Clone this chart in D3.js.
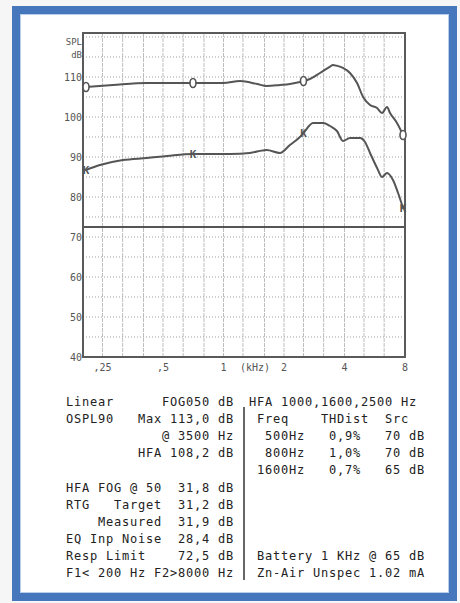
<!DOCTYPE html>
<html>
<head>
    <title>hearing aid test</title>
    <script src="https://d3js.org/d3.v7.min.js"></script>
    <style>
        body{margin:0;background:#f6f6f6;}
        text{font-family:"DejaVu Sans Mono",monospace;}
    </style>
</head>
<body>
    <script>
var w=460;
var h=603;

// frequency (kHz) and level (dB SPL) of the two curves
var osplFreq=[0.207,0.282,0.416,0.705,0.857,0.995,1.21,1.47,1.64,1.91,2.14,2.40,2.50,2.69,3.02,3.39,3.5,3.67,3.93,4.26,4.62,4.95,5.36,5.81,6.15,6.51,6.74,7.30,7.82];
var osplDb=[107.5,108,108.5,108.5,108.5,108.5,109,108.25,107.75,108,108.25,108.75,109,109.5,111,112.6,113,112.8,112.3,111,108.5,105,103,102.25,101,102.5,101,98.5,95.5];
var gainFreq=[0.207,0.243,0.316,0.416,0.524,0.705,0.857,1.08,1.35,1.64,1.91,2.14,2.40,2.50,2.79,3.13,3.39,3.67,3.93,4.26,4.78,5.06,5.36,5.81,6.15,6.51,6.97,7.39,7.82];
var gainDb=[86.75,88,89.25,89.75,90.25,90.75,90.75,90.75,91,91.75,91,93,95,96,98.5,98.5,97.75,96.5,94,94.75,94.75,93.75,91,87.25,85,86,84.25,81,77.25];
var markerFreq=[0.207,0.705,2.50,7.82];
var respLimit=72.5;

// axis labels
var yTicks=[40,50,60,70,80,90,100,110];
var xTicks=[0.25,0.5,1,2,4,8];
var xTickLabels=[",25",",5","1","2","4","8"];
var gridFreq=[0.25,0.315,0.4,0.5,0.63,0.8,1,1.25,1.6,2,2.5,3.15,4,5,6.3];
var gridDb=[45,50,55,60,65,70,75,80,85,90,95,100,105,110,115,120];

// text block under the chart
var leftLines=[
    "Linear      FOG050 dB",
    "OSPL90   Max 113,0 dB",
    "            @ 3500 Hz",
    "         HFA 108,2 dB",
    "",
    "HFA FOG @ 50  31,8 dB",
    "RTG   Target  31,2 dB",
    "    Measured  31,9 dB",
    "EQ Inp Noise  28,4 dB",
    "Resp Limit    72,5 dB",
    "F1< 200 Hz F2>8000 Hz"
];
var rightLines=[
    "HFA 1000,1600,2500 Hz",
    " Freq    THDist  Src",
    "  500Hz   0,9%   70 dB",
    "  800Hz   1,0%   70 dB",
    " 1600Hz   0,7%   65 dB",
    "","","","",
    " Battery 1 KHz @ 65 dB",
    " Zn-Air Unspec 1.02 mA"
];

var svg=d3.select("body")
    .append("svg")
    .attr("width",w)
    .attr("height",h);

// window frame
svg.append("rect")
    .attr("x",16).attr("y",10)
    .attr("width",437).attr("height",587)
    .attr("fill","#fff")
    .attr("stroke","#4677bd")
    .attr("stroke-width",8);
svg.append("rect")
    .attr("x",20.5).attr("y",14.5)
    .attr("width",428).attr("height",578)
    .attr("fill","none")
    .attr("stroke","#b9cfe9")
    .attr("stroke-width",1);

var x=d3.scaleLog().domain([0.2,8]).range([83,405]);
var y=d3.scaleLinear().domain([40,121]).range([357,33]);

// grid
svg.selectAll(".vg")
    .data(gridFreq)
    .enter()
    .append("line")
    .attr("x1",function(d){return x(d);})
    .attr("x2",function(d){return x(d);})
    .attr("y1",y(121)).attr("y2",y(40))
    .attr("stroke","#bdbdbd")
    .attr("stroke-dasharray","4,1");
svg.selectAll(".hg")
    .data(gridDb)
    .enter()
    .append("line")
    .attr("x1",x(0.2)).attr("x2",x(8))
    .attr("y1",function(d){return y(d);})
    .attr("y2",function(d){return y(d);})
    .attr("stroke","#a0a0a0")
    .attr("stroke-dasharray","1,2");

// response limit line
svg.append("line")
    .attr("x1",x(0.2)).attr("x2",x(8))
    .attr("y1",y(respLimit)).attr("y2",y(respLimit))
    .attr("stroke","#555")
    .attr("stroke-width",2);

// plot border
svg.append("rect")
    .attr("x",x(0.2)).attr("y",y(121))
    .attr("width",x(8)-x(0.2)).attr("height",y(40)-y(121))
    .attr("fill","none")
    .attr("stroke","#5a5a5a")
    .attr("stroke-width",2);

// curves
var line=d3.line()
    .x(function(d){return x(d[0]);})
    .y(function(d){return y(d[1]);})
    .curve(d3.curveMonotoneX);
var ospl=d3.zip(osplFreq,osplDb);
var gain=d3.zip(gainFreq,gainDb);
[ospl,gain].forEach(function(c){
    svg.append("path")
        .attr("d",line(c))
        .attr("fill","none")
        .attr("stroke","#555")
        .attr("stroke-width",2);
});

// curve markers
function at(c,f){
    return c.find(function(p){return p[0]===f;})[1];
}
svg.selectAll(".om")
    .data(markerFreq)
    .enter()
    .append("ellipse")
    .attr("cx",function(d){return x(d);})
    .attr("cy",function(d){return y(at(ospl,d));})
    .attr("rx",3).attr("ry",4.5)
    .attr("fill","#fff")
    .attr("stroke","#555")
    .attr("stroke-width",1.6);
svg.selectAll(".km")
    .data(markerFreq)
    .enter()
    .append("text")
    .attr("x",function(d){return x(d);})
    .attr("y",function(d){return y(at(gain,d))+4;})
    .attr("text-anchor","middle")
    .style("font-size","11px")
    .style("font-weight","bold")
    .style("fill","#555")
    .text("K");

// axis labels
svg.selectAll(".yl")
    .data(yTicks)
    .enter()
    .append("text")
    .attr("x",82)
    .attr("y",function(d){return y(d)+4;})
    .attr("text-anchor","end")
    .style("font-size","10px")
    .style("fill","#555")
    .text(function(d){return d;});
svg.append("text").attr("x",82).attr("y",45).attr("text-anchor","end")
    .style("font-size","9px").style("fill","#555").text("SPL");
svg.append("text").attr("x",82).attr("y",58).attr("text-anchor","end")
    .style("font-size","9px").style("fill","#555").text("dB");

svg.selectAll(".xl")
    .data(xTicks)
    .enter()
    .append("text")
    .attr("x",function(d){return x(d);})
    .attr("y",371)
    .attr("text-anchor","middle")
    .style("font-size","10px")
    .style("fill","#555")
    .text(function(d,i){return xTickLabels[i];});
svg.append("text").attr("x",255).attr("y",371).attr("text-anchor","middle")
    .style("font-size","10px").style("fill","#555").text("(kHz)");

// text panel
function rows(lines,x0){
    svg.append("g")
        .selectAll("text")
        .data(lines)
        .enter()
        .append("text")
        .attr("x",x0)
        .attr("y",function(d,i){return 406+17.1*i;})
        .style("font-size","12px")
        .style("letter-spacing","0.78px")
        .style("white-space","pre")
        .style("fill","#222")
        .text(function(d){return d;});
}
rows(leftLines,66);
rows(rightLines,249);

// divider
svg.append("line")
    .attr("x1",244).attr("x2",244)
    .attr("y1",407).attr("y2",580)
    .attr("stroke","#666")
    .attr("stroke-width",2);
    </script>
</body>
</html>
